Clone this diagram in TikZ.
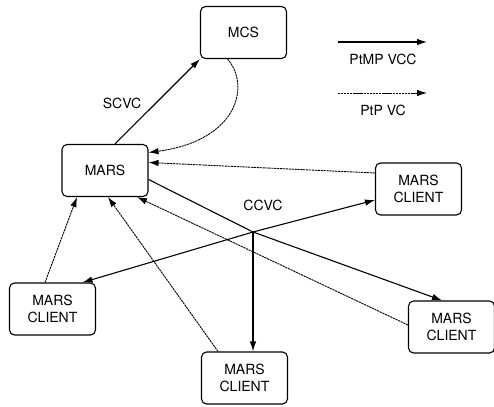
\documentclass[tikz,border=0pt]{standalone}
\usepackage{fontspec}
\setmainfont{TeX Gyre Heros}
\usetikzlibrary{arrows.meta,calc}
\tikzset{
  box/.style={draw, line width=1.1pt, rounded corners=5pt, minimum width=86pt,
    minimum height=52pt, align=center, inner sep=0pt,
    font=\fontsize{14}{17}\selectfont},
  lbl/.style={font=\fontsize{14}{16}\selectfont, inner sep=0pt},
  tip/.style={-{Latex[length=10pt,width=6.5pt]}},
  pmp/.style={tip, line width=1.1pt},
  ptp/.style={tip, line width=0.9pt, dash pattern=on 2.2pt off 0.7pt},
}
\begin{document}
\begin{tikzpicture}[x=1pt, y=-1pt]
\useasboundingbox (0,0) rectangle (494,406);

% nodes
\node[box] (mcs)  at (243.5,32.5) {MCS};
\node[box] (mars) at (105,170.5)  {MARS};
\node[box] (rc)   at (418.5,189)  {MARS\\CLIENT};
\node[box] (lc)   at (52.5,309)   {MARS\\CLIENT};
\node[box] (bc)   at (244.5,378)  {MARS\\CLIENT};
\node[box] (rbc)  at (451.5,327)  {MARS\\CLIENT};

% branch point of the cluster control VC
\coordinate (br) at (253,232);

% server control VC
\draw[pmp] ([xshift=10pt]mars.north) -- (mcs.south west);
\node[lbl] (scvc) at (122,103) {SCVC};

% point-to-point VCs towards MARS
\draw[ptp] ([xshift=-16pt]mcs.south) .. controls +(23,26) and +(90,-12) .. ([yshift=18pt]mars.east);
\draw[ptp] ([yshift=16pt]rc.west) -- ([yshift=8pt]mars.east);
\draw[ptp] ([xshift=-7.5pt]lc.north) -- ([xshift=-28pt]mars.south);
\draw[ptp] ([xshift=-26.5pt]bc.north) -- ([xshift=3pt]mars.south);
\draw[ptp] ([yshift=2pt]rbc.west) -- ([xshift=32pt]mars.south);

% cluster control VC (point-to-multipoint from MARS)
\draw[line width=1.1pt] ([yshift=-9pt]mars.east) -- (br);
\draw[pmp] (br) -- ([xshift=30pt]lc.north);
\draw[pmp] (br) -- ([yshift=-11pt]rc.west);
\draw[pmp] (br) -- (br |- bc.north);
\draw[pmp] (br) -- ([xshift=-9.5pt]rbc.north);
\node[lbl] (ccvc) at (263,205) {CCVC};

% legend
\coordinate (l1a) at (338,42);
\coordinate (l1b) at (427,42);
\coordinate (l2a) at (338,93);
\coordinate (l2b) at (427,93);
\draw[pmp] (l1a) -- (l1b);
\node[lbl] (lg1) at (383,59) {PtMP VCC};
\draw[ptp] (l2a) -- (l2b);
\node[lbl] (lg2) at (383,110) {PtP VC};
\end{tikzpicture}
\end{document}
